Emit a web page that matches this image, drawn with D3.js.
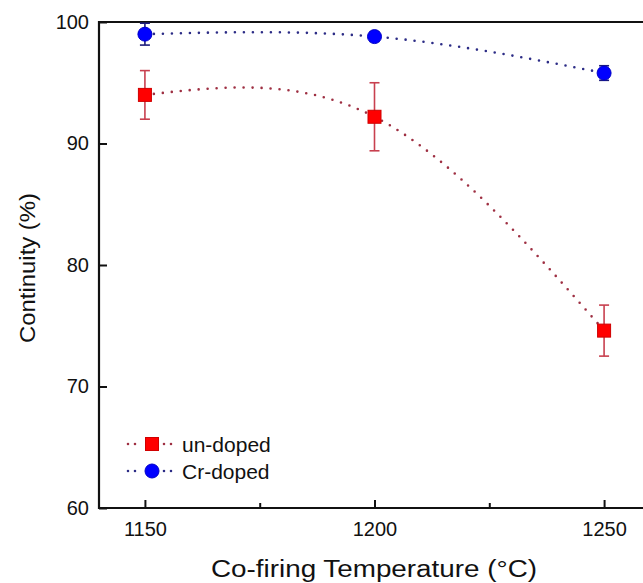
<!DOCTYPE html>
<html>
<head>
<meta charset="utf-8">
<script src="https://cdn.jsdelivr.net/npm/d3@7"></script>
<style>
  body { margin: 0; overflow: hidden; background: #fff; }
  text { font-family: "Liberation Sans", Arial, sans-serif; fill: #111; }
</style>
</head>
<body>
<script>
// data
var temps = [1150, 1200, 1250];
var undoped = [94.0, 92.2, 74.6];
var undopedErr = [2.0, 2.8, 2.1];
var crdoped = [99.0, 98.8, 95.8];
var crdopedErr = [0.9, 0.4, 0.6];
var xTicks = [1150, 1200, 1250];
var xMinor = [1175, 1225];
var yTicks = [60, 70, 80, 90, 100];

var margin = {top: 22, right: 10, bottom: 75, left: 99},
    width = 551,
    height = 486;

var svg = d3.select("body").append("svg")
    .attr("width", 670)
    .attr("height", 583);

var g = svg.append("g")
    .attr("transform", "translate(" + margin.left + "," + margin.top + ")");

var x = d3.scaleLinear().domain([1140, 1260]).range([0, width]);
var y = d3.scaleLinear().domain([60, 100]).range([height, 0]);

// axes, ticks pointing inward
var xAxis = d3.axisBottom(x).tickValues(xTicks).tickFormat(d3.format("d"))
    .tickSizeInner(-8).tickSizeOuter(0).tickPadding(14);
var xAxisMinor = d3.axisBottom(x).tickValues(xMinor).tickFormat("")
    .tickSizeInner(-5).tickSizeOuter(0);
var yAxis = d3.axisLeft(y).tickValues(yTicks)
    .tickSizeInner(-8).tickSizeOuter(0).tickPadding(10);

var gx = g.append("g").attr("transform", "translate(0," + height + ")").call(xAxis);
var gxm = g.append("g").attr("transform", "translate(0," + height + ")").call(xAxisMinor);
var gy = g.append("g").call(yAxis);

[gx, gxm, gy].forEach(function(a) {
  a.select(".domain").remove();
  a.selectAll(".tick line").attr("stroke", "#111").attr("stroke-width", 2);
  a.selectAll(".tick text").style("font-size", "20px").attr("fill", "#111");
});

// frame: left, bottom, top
g.append("path")
    .attr("d", "M" + (width + 20) + ",0H0V" + height + "H" + (width + 20))
    .attr("fill", "none")
    .attr("stroke", "#111")
    .attr("stroke-width", 2.2);

var series = [
  {name: "un-doped", vals: undoped, err: undopedErr, line: "#9e2f42", errColor: "#c8404f", fill: "#ff0000", edge: "#d00000", shape: "square"},
  {name: "Cr-doped", vals: crdoped, err: crdopedErr, line: "#2c2c86", errColor: "#1c1c7a", fill: "#0000ff", edge: "#0000c8", shape: "circle"}
];

var line = d3.line()
    .x(function(d) { return x(d[0]); })
    .y(function(d) { return y(d[1]); })
    .curve(d3.curveNatural);

function drawMarker(sel, s, cx, cy) {
  if (s.shape === "square") {
    sel.append("rect")
        .attr("x", cx - 6.5).attr("y", cy - 6.5)
        .attr("width", 13).attr("height", 13)
        .attr("fill", s.fill).attr("stroke", s.edge).attr("stroke-width", 1);
  } else {
    sel.append("circle")
        .attr("cx", cx).attr("cy", cy).attr("r", 7)
        .attr("fill", s.fill).attr("stroke", s.edge).attr("stroke-width", 1);
  }
}

series.forEach(function(s) {
  var pts = temps.map(function(t, i) { return [t, s.vals[i]]; });

  g.append("path")
      .datum(pts)
      .attr("d", line)
      .attr("fill", "none")
      .attr("stroke", s.line)
      .attr("stroke-width", 2.6)
      .attr("stroke-linecap", "round")
      .attr("stroke-dasharray", "0,9");

  var eb = g.append("g");
  temps.forEach(function(t, i) {
    var cx = x(t), top = y(s.vals[i] + s.err[i]), bot = y(s.vals[i] - s.err[i]);
    eb.append("line").attr("x1", cx).attr("x2", cx).attr("y1", top).attr("y2", bot)
        .attr("stroke", s.errColor).attr("stroke-width", 1.6);
    [top, bot].forEach(function(yy) {
      eb.append("line").attr("x1", cx - 5).attr("x2", cx + 5).attr("y1", yy).attr("y2", yy)
          .attr("stroke", s.errColor).attr("stroke-width", 1.6);
    });
  });

  var mk = g.append("g");
  temps.forEach(function(t, i) { drawMarker(mk, s, x(t), y(s.vals[i])); });
});

// legend: two dots each side of the marker
var legend = svg.append("g");
series.forEach(function(s, i) {
  var ly = 444 + i * 27;
  [[128, 137], [164, 173]].forEach(function(seg) {
    legend.append("line")
        .attr("x1", seg[0]).attr("x2", seg[1]).attr("y1", ly).attr("y2", ly)
        .attr("stroke", s.line).attr("stroke-width", 2.6)
        .attr("stroke-linecap", "round").attr("stroke-dasharray", "0,7");
  });
  drawMarker(legend, s, 152, ly);
  legend.append("text")
      .attr("x", 182).attr("y", ly + 7.5)
      .style("font-size", "21px")
      .text(s.name);
});

// axis titles (the original lettering is a bit wider than Liberation Sans)
svg.append("text")
    .attr("x", 374).attr("y", 577)
    .attr("text-anchor", "middle")
    .attr("textLength", 326)
    .attr("lengthAdjust", "spacingAndGlyphs")
    .style("font-size", "23px")
    .text("Co-firing Temperature (\u00B0C)");

svg.append("text")
    .attr("transform", "translate(35,268) rotate(-90)")
    .attr("text-anchor", "middle")
    .attr("textLength", 150)
    .attr("lengthAdjust", "spacingAndGlyphs")
    .style("font-size", "22px")
    .text("Continuity (%)");
</script>
</body>
</html>
